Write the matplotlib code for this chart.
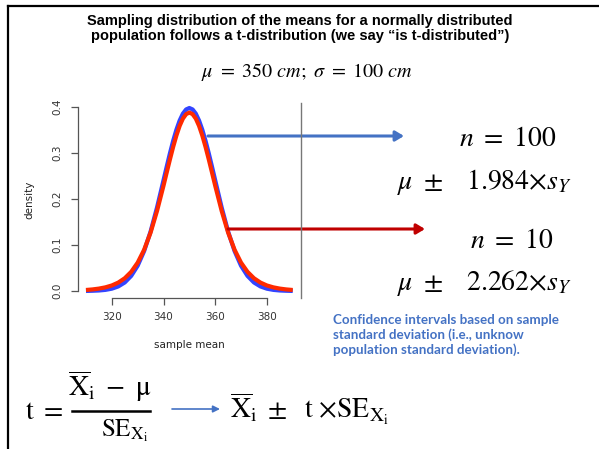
import numpy as np
import matplotlib.pyplot as plt
from matplotlib.lines import Line2D
from matplotlib.patches import FancyArrowPatch

plt.rcParams['mathtext.fontset'] = 'stix'

# sample mean grid and densities
sample_mean = [310, 312.5, 315, 317.5, 320, 322.5, 325, 327.5, 330, 332.5, 335,
               337.5, 340, 341.25, 342.5, 343.75, 345, 346.25, 347.5, 348.75,
               350, 351.25, 352.5, 353.75, 355, 356.25, 357.5, 358.75, 360,
               362.5, 365, 367.5, 370, 372.5, 375, 377.5, 380, 382.5, 385, 387.5, 390]
dens_n100 = [0.0002, 0.0006, 0.0012, 0.0025, 0.0051, 0.0100, 0.0186, 0.0329,
             0.0550, 0.0868, 0.1294, 0.1818, 0.2408, 0.2706, 0.2997, 0.3268,
             0.3508, 0.3707, 0.3856, 0.3948, 0.3979, 0.3948, 0.3856, 0.3707,
             0.3508, 0.3268, 0.2997, 0.2706, 0.2408, 0.1818, 0.1294, 0.0868,
             0.0550, 0.0329, 0.0186, 0.0100, 0.0051, 0.0025, 0.0012, 0.0006, 0.0002]
dens_n10 = [0.0023, 0.0035, 0.0053, 0.0080, 0.0121, 0.0184, 0.0278, 0.0417,
            0.0617, 0.0897, 0.1271, 0.1743, 0.2291, 0.2580, 0.2865, 0.3137,
            0.3383, 0.3591, 0.3748, 0.3846, 0.3880, 0.3846, 0.3748, 0.3591,
            0.3383, 0.3137, 0.2865, 0.2580, 0.2291, 0.1743, 0.1271, 0.0897,
            0.0617, 0.0417, 0.0278, 0.0184, 0.0121, 0.0080, 0.0053, 0.0035, 0.0023]
xticks = [320, 340, 360, 380]
yticks = [0.0, 0.1, 0.2, 0.3, 0.4]

W, H = 599, 449
fig = plt.figure(figsize=(W / 100, H / 100), dpi=100)

def px(x, y):
    return x / W, 1 - y / H

# slide frame (top and left)
fig.add_artist(Line2D([7.5 / W, 1], [1 - 6 / H] * 2, color='black', lw=1.6))
fig.add_artist(Line2D([7.5 / W] * 2, [0, 1 - 6 / H], color='black', lw=1.6))

# R plot
ax = fig.add_axes([77.7 / W, 1 - 298.4 / H, (301 - 77.7) / W, (298.4 - 100.6) / H])
ax.plot(sample_mean, dens_n100, color='#3344ff', lw=3, solid_capstyle='butt')
ax.plot(sample_mean, dens_n10, color='#ff2a00', lw=3, solid_capstyle='butt')
ax.set_xlim(306.8, 393.2)
ax.set_ylim(-0.016, 0.414)
for s in ['top', 'right']:
    ax.spines[s].set_visible(False)
ax.spines['left'].set_bounds(0, 0.4)
ax.spines['bottom'].set_bounds(320, 380)
for s in ['left', 'bottom']:
    ax.spines[s].set_color('#555555')
    ax.spines[s].set_linewidth(0.9)
ax.set_xticks(xticks)
ax.set_yticks(yticks)
ax.set_yticklabels(['%.1f' % v for v in yticks], rotation=90, va='center')
ax.tick_params(colors='#555555', labelcolor='#333333', labelsize=7.5, length=5, width=0.9)
ax.tick_params(axis='x', pad=5)
ax.tick_params(axis='y', pad=6)
ax.set_xlabel('sample mean', fontsize=7.5, color='#222222', labelpad=13)
ax.set_ylabel('density', fontsize=7.5, color='#222222', labelpad=13)
ax.patch.set_alpha(0)

# vertical gray line at right of plot region
fig.add_artist(Line2D([301 / W] * 2, [1 - 298 / H, 1 - 103 / H], color='#777777', lw=1.0))

# title
fig.text(300 / W, 1 - 21 / H, 'Sampling distribution of the means for a normally distributed',
         ha='center', va='center', fontsize=10.5, fontweight='bold', family='Liberation Sans')
fig.text(300 / W, 1 - 36 / H, 'population follows a t-distribution (we say \u201cis t-distributed\u201d)',
         ha='center', va='center', fontsize=10.5, fontweight='bold', family='Liberation Sans')
fig.text(307 / W, 1 - 72 / H, r'$\mu\ =\ 350\ cm;\ \sigma\ =\ 100\ cm$',
         ha='center', va='center', fontsize=14.5)

# arrows
fig.add_artist(FancyArrowPatch(
    px(208, 136), px(404, 136), transform=fig.transFigure, color='#4472c4',
    lw=2.2, arrowstyle='-|>,head_length=5,head_width=3', shrinkA=0, shrinkB=0))
fig.add_artist(FancyArrowPatch(
    px(228, 229), px(425, 229), transform=fig.transFigure, color='#c00000',
    lw=2.2, arrowstyle='-|>,head_length=5,head_width=3', shrinkA=0, shrinkB=0))

# right-side formulas
fs_r = 20
fig.text(508 / W, 1 - 138 / H, r'$n\ =\ \mathrm{100}$', ha='center', va='center', fontsize=fs_r)
fig.text(572 / W, 1 - 182 / H, r'$\mu\ \pm\ \ \ \mathrm{1.984}{\times}s_Y$',
         ha='right', va='center', fontsize=fs_r)
fig.text(512 / W, 1 - 240 / H, r'$n\ =\ \mathrm{10}$', ha='center', va='center', fontsize=fs_r)
fig.text(572 / W, 1 - 283 / H, r'$\mu\ \pm\ \ \ \mathrm{2.262}{\times}s_Y$',
         ha='right', va='center', fontsize=fs_r)

fig.text(333 / W, 1 - 335 / H,
         'Confidence intervals based on sample\nstandard deviation (i.e., unknow\npopulation standard deviation).',
         ha='left', va='center', fontsize=9.6, fontweight='bold', color='#4472c4',
         family='Lato', linespacing=1.2)

# bottom formulas
fs_b = 20
fig.text(25 / W, 1 - 411 / H, r'$\mathrm{t}\ =$', ha='left', va='center', fontsize=fs_b)
fig.text(110 / W, 1 - 386 / H, r'$\overline{\mathrm{X}}_\mathrm{i}\ -\ \mathrm{μ}$',
         ha='center', va='center', fontsize=fs_b)
fig.add_artist(Line2D([72 / W, 150 / W], [1 - 411 / H] * 2, color='black', lw=1.8))
fig.text(125 / W, 1 - 431 / H, r'$\mathrm{SE}_{\mathrm{X_i}}$', ha='center', va='center', fontsize=18)
fig.add_artist(FancyArrowPatch(
    px(172, 409), px(220, 409), transform=fig.transFigure, color='#4472c4',
    lw=1.2, arrowstyle='-|>,head_length=4,head_width=2', shrinkA=0, shrinkB=0))
fig.text(230 / W, 1 - 409 / H,
         r'$\overline{\mathrm{X}}_\mathrm{i}\ \pm\ \ \mathrm{t}\ {\times}\mathrm{SE}_{\mathrm{X_i}}$',
         ha='left', va='center', fontsize=fs_b)

fig.savefig('out.png', dpi=100)
